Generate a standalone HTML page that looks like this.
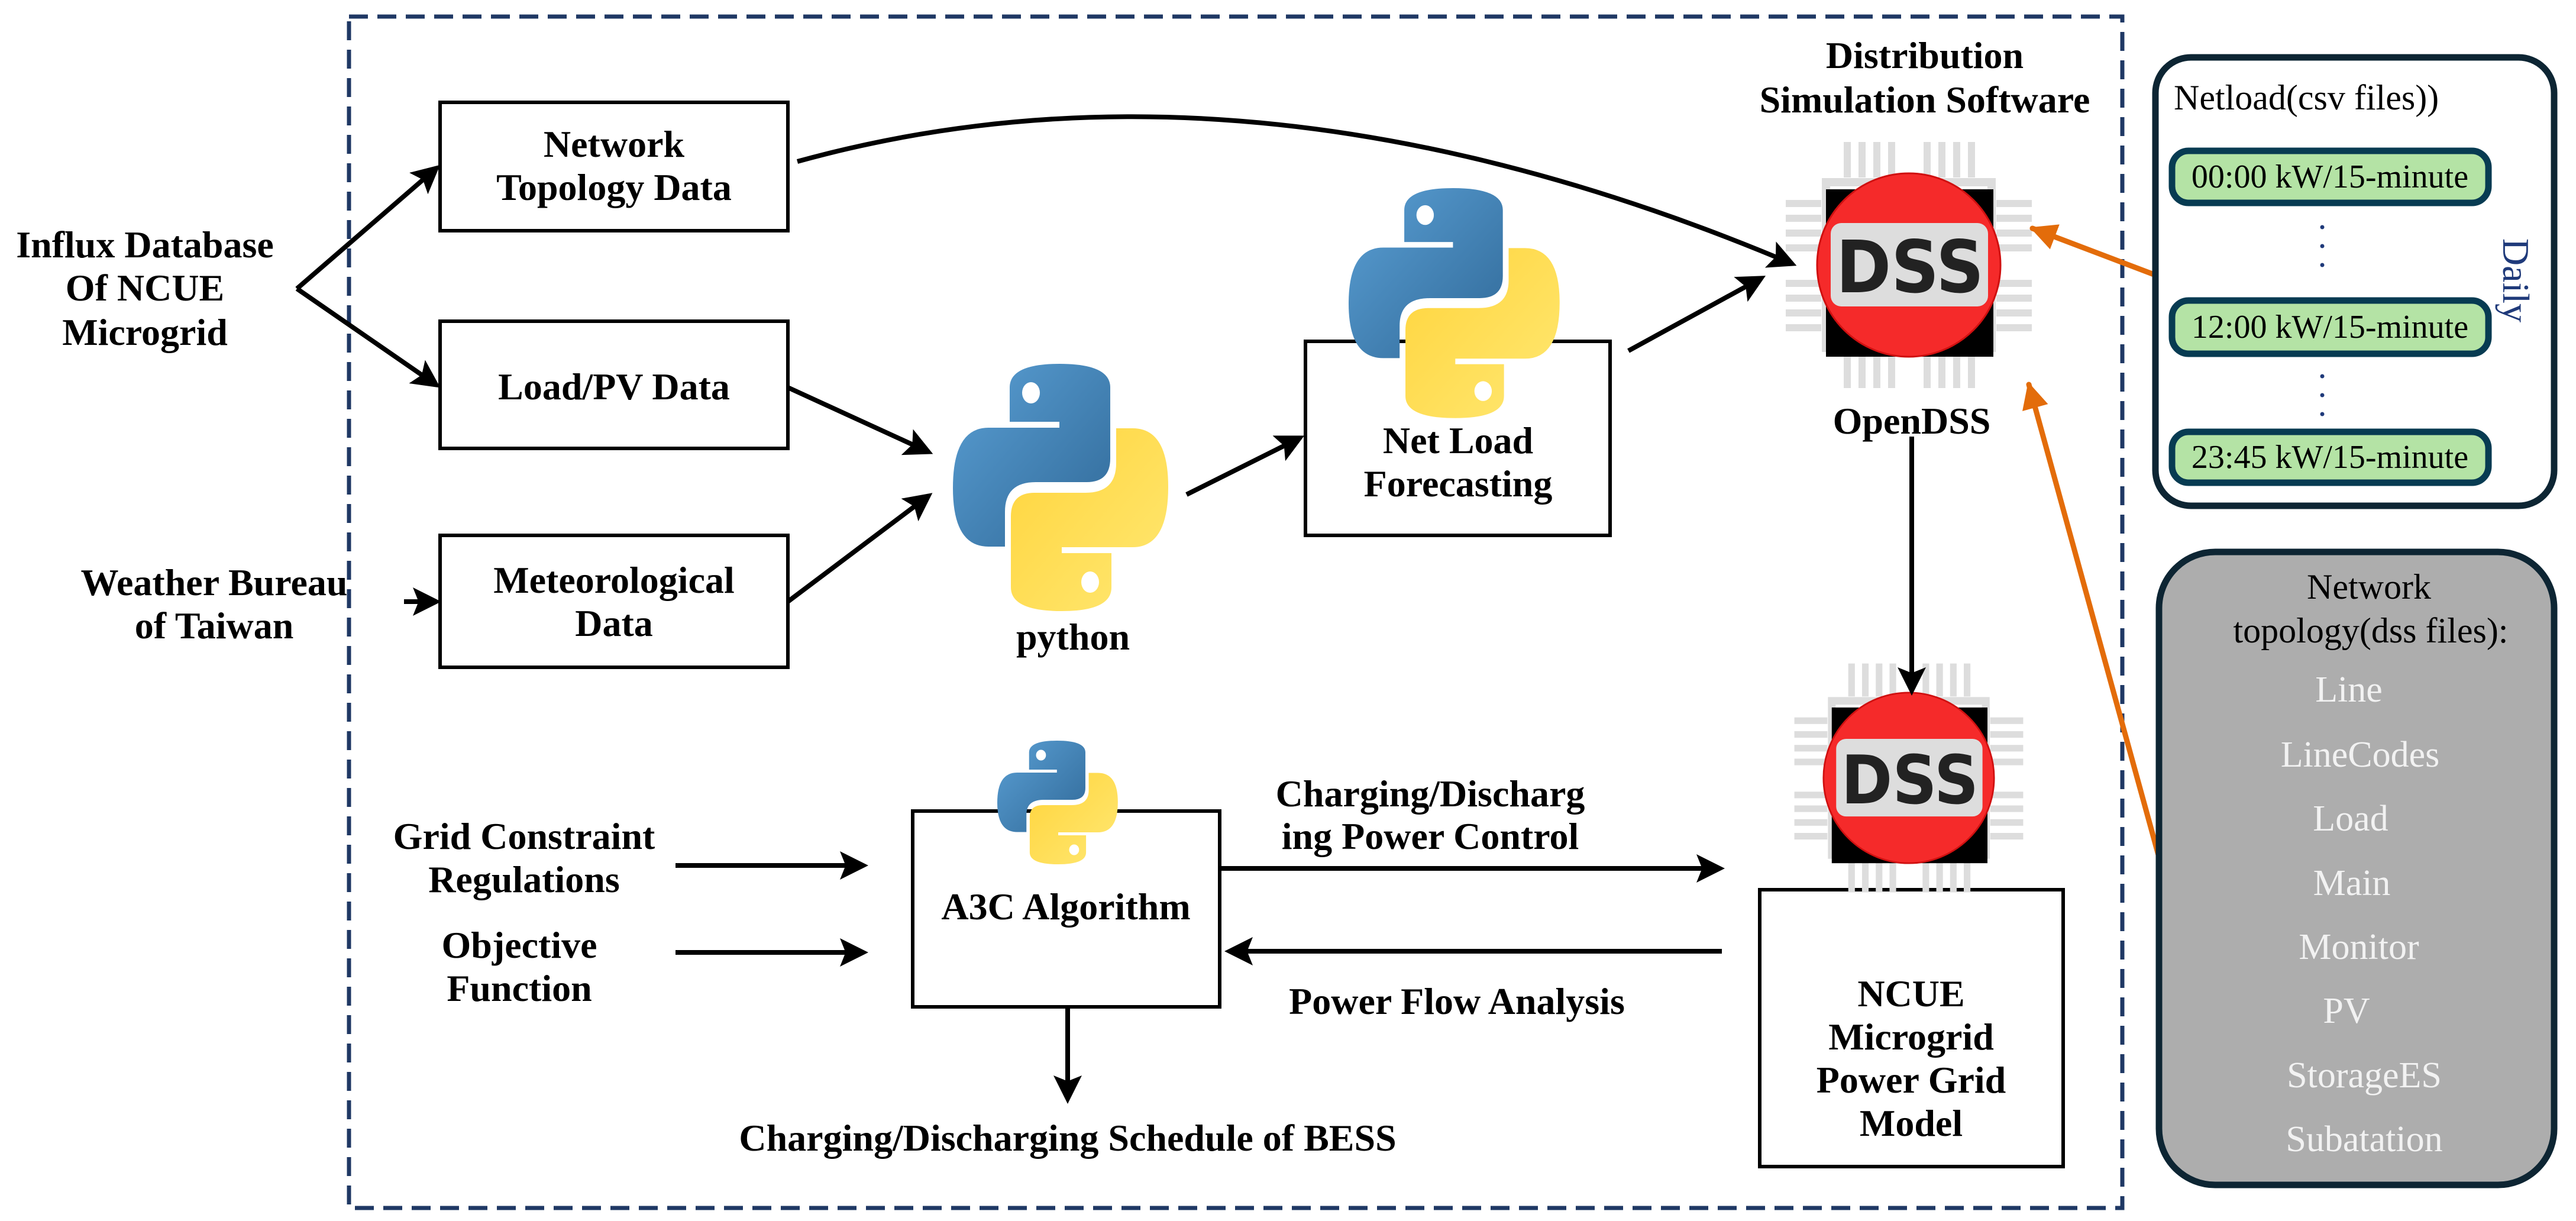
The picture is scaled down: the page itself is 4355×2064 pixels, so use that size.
<!DOCTYPE html>
<html><head><meta charset="utf-8"><style>
html,body{margin:0;padding:0;background:#fff}
svg{display:block}
.b{font-family:"Liberation Serif",serif;font-weight:bold;font-size:64px;fill:#000}
.r{font-family:"Liberation Serif",serif;font-size:60px;fill:#000}
</style></head><body>
<svg width="4355" height="2064" viewBox="0 0 4355 2064" xmlns="http://www.w3.org/2000/svg">
<defs>
<marker id="ah" markerWidth="6" markerHeight="6" refX="5" refY="3" orient="auto" markerUnits="strokeWidth"><path d="M0,0 L6,3 L0,6 L1.2,3 Z" fill="#000"/></marker>
<marker id="ao" markerWidth="5" markerHeight="5" refX="4.5" refY="2.5" orient="auto" markerUnits="strokeWidth"><path d="M0,0 L5,2.5 L0,5 Z" fill="#e36c0a"/></marker>
<linearGradient id="gb" x1="0" y1="0" x2="1" y2="1"><stop offset="0" stop-color="#5a9fd4"/><stop offset="1" stop-color="#306998"/></linearGradient>
<linearGradient id="gy" x1="0" y1="0" x2="1" y2="1"><stop offset="0" stop-color="#ffe873"/><stop offset="1" stop-color="#ffd43b"/></linearGradient>
<g id="py">
<path d="M96,40 Q96,0 180,0 Q266,0 266,40 L266,160 Q266,200 226,200 L140,200 Q88,200 88,250 L88,309 L60,309 Q0,309 0,210 Q0,108 60,108 L180,108 L180,98 L96,98 Z" fill="url(#gb)"/>
<ellipse cx="132" cy="49" rx="15" ry="18" fill="#fff"/>
<g transform="rotate(180 182 209)">
<path d="M96,40 Q96,0 180,0 Q266,0 266,40 L266,160 Q266,200 226,200 L140,200 Q88,200 88,250 L88,309 L60,309 Q0,309 0,210 Q0,108 60,108 L180,108 L180,98 L96,98 Z" fill="url(#gy)"/>
<ellipse cx="132" cy="49" rx="15" ry="18" fill="#fff"/>
</g>
</g>
<g id="dss">
<g fill="#ddd">
<rect x="-140" y="-140" width="280" height="280" fill="none" stroke="#ddd" stroke-width="14"/>
<rect x="-110" y="-208" width="12" height="60"/><rect x="-85" y="-208" width="12" height="60"/><rect x="-60" y="-208" width="12" height="60"/><rect x="-35" y="-208" width="12" height="60"/>
<rect x="100" y="-208" width="12" height="60"/><rect x="75" y="-208" width="12" height="60"/><rect x="50" y="-208" width="12" height="60"/><rect x="25" y="-208" width="12" height="60"/>
<rect x="-110" y="148" width="12" height="60"/><rect x="-85" y="148" width="12" height="60"/><rect x="-60" y="148" width="12" height="60"/><rect x="-35" y="148" width="12" height="60"/>
<rect x="100" y="148" width="12" height="60"/><rect x="75" y="148" width="12" height="60"/><rect x="50" y="148" width="12" height="60"/><rect x="25" y="148" width="12" height="60"/>
<rect y="-110" x="-208" height="12" width="60"/><rect y="-85" x="-208" height="12" width="60"/><rect y="-60" x="-208" height="12" width="60"/><rect y="-35" x="-208" height="12" width="60"/>
<rect y="100" x="-208" height="12" width="60"/><rect y="75" x="-208" height="12" width="60"/><rect y="50" x="-208" height="12" width="60"/><rect y="25" x="-208" height="12" width="60"/>
<rect y="-110" x="148" height="12" width="60"/><rect y="-85" x="148" height="12" width="60"/><rect y="-60" x="148" height="12" width="60"/><rect y="-35" x="148" height="12" width="60"/>
<rect y="100" x="148" height="12" width="60"/><rect y="75" x="148" height="12" width="60"/><rect y="50" x="148" height="12" width="60"/><rect y="25" x="148" height="12" width="60"/>
</g>
<rect x="-140" y="-128" width="283" height="283" fill="#000"/>
<circle cx="0" cy="0" r="155" fill="#f52a2a" stroke="#d01010" stroke-width="3"/>
<rect x="-132" y="-71" width="266" height="141" rx="18" fill="#ddd"/>
<text x="2" y="46" text-anchor="middle" font-family="DejaVu Sans,Liberation Sans,sans-serif" font-weight="bold" font-size="122" textLength="250" lengthAdjust="spacingAndGlyphs" fill="#222">DSS</text>
</g>
</defs>

<rect x="590" y="28" width="2998" height="2014" fill="none" stroke="#1f3864" stroke-width="7" stroke-dasharray="32 16"/>

<g fill="#fff" stroke="#000" stroke-width="6">
<rect x="744" y="173" width="588" height="217"/>
<rect x="744" y="543" width="588" height="215"/>
<rect x="744" y="905" width="588" height="223"/>
<rect x="2207" y="577" width="515" height="328"/>
<rect x="1543" y="1371" width="519" height="331"/>
<rect x="2975" y="1504" width="513" height="468"/>
</g>

<use href="#py" transform="translate(1611,615)"/>
<use href="#py" transform="translate(2280,318) scale(0.98,0.93)"/>
<use href="#py" transform="translate(1686,1252) scale(0.56,0.5)"/>
<use href="#dss" transform="translate(3227,448)"/>
<use href="#dss" transform="translate(3227,1315) scale(0.93)"/>

<g stroke="#000" stroke-width="8" fill="none" marker-end="url(#ah)">
<line x1="502" y1="488" x2="738" y2="284"/>
<line x1="502" y1="488" x2="738" y2="651"/>
<line x1="683" y1="1017" x2="738" y2="1017"/>
<line x1="1332" y1="655" x2="1570" y2="764"/>
<line x1="1332" y1="1017" x2="1570" y2="838"/>
<line x1="2006" y1="836" x2="2198" y2="740"/>
<line x1="2753" y1="593" x2="2978" y2="470"/>
<path d="M1348,273 Q2117,60 3030,446"/>
<line x1="3232" y1="738" x2="3232" y2="1168"/>
<line x1="1142" y1="1463" x2="1460" y2="1463"/>
<line x1="1142" y1="1610" x2="1460" y2="1610"/>
<line x1="2062" y1="1468" x2="2908" y2="1468"/>
<line x1="2911" y1="1608" x2="2078" y2="1608"/>
<line x1="1805" y1="1702" x2="1805" y2="1858"/>
</g>
<g stroke="#e36c0a" stroke-width="9" fill="none" marker-end="url(#ao)" stroke-linecap="round">
<line x1="3644" y1="465" x2="3436" y2="386"/>
<line x1="3650" y1="1449" x2="3430" y2="650"/>
</g>

<g class="b" text-anchor="middle">
<text x="1038" y="265">Network</text><text x="1038" y="338">Topology Data</text>
<text x="1038" y="675">Load/PV Data</text>
<text x="1038" y="1002">Meteorological</text><text x="1038" y="1075">Data</text>
<text x="2465" y="766">Net Load</text><text x="2465" y="839">Forecasting</text>
<text x="1802" y="1554">A3C Algorithm</text>
<text x="3231" y="1701">NCUE</text><text x="3231" y="1774">Microgrid</text><text x="3231" y="1847">Power Grid</text><text x="3231" y="1920">Model</text>
<text x="245" y="435">Influx Database</text><text x="245" y="508">Of NCUE</text><text x="245" y="583">Microgrid</text>
<text x="362" y="1006">Weather Bureau</text><text x="362" y="1079">of Taiwan</text>
<text x="3254" y="115">Distribution</text><text x="3254" y="190">Simulation Software</text>
<text x="3232" y="733">OpenDSS</text>
<text x="1814" y="1098">python</text>
<text x="886" y="1435">Grid Constraint</text><text x="886" y="1508">Regulations</text>
<text x="878" y="1619">Objective</text><text x="878" y="1692">Function</text>
<text x="2418" y="1363">Charging/Discharg</text><text x="2418" y="1435">ing Power Control</text>
<text x="2463" y="1714">Power Flow Analysis</text>
<text x="1805" y="1945">Charging/Discharging Schedule of BESS</text>
</g>

<rect x="3644" y="97" width="674" height="758" rx="60" fill="#fff" stroke="#0d2533" stroke-width="11"/>
<text class="r" x="3675" y="185" font-size="66">Netload(csv files))</text>
<g fill="#b4e3a5" stroke="#073b52" stroke-width="11">
<rect x="3672" y="255" width="535" height="88" rx="28"/>
<rect x="3672" y="508" width="535" height="90" rx="28"/>
<rect x="3672" y="730" width="535" height="86" rx="28"/>
</g>
<g class="r" text-anchor="middle">
<text x="3939" y="317" font-size="56">00:00 kW/15-minute</text>
<text x="3939" y="571" font-size="56">12:00 kW/15-minute</text>
<text x="3939" y="791" font-size="56">23:45 kW/15-minute</text>
</g>
<g fill="#1f3a7a"><circle cx="3926" cy="384" r="3.5"/><circle cx="3926" cy="416" r="3.5"/><circle cx="3926" cy="448" r="3.5"/><circle cx="3926" cy="636" r="3.5"/><circle cx="3926" cy="668" r="3.5"/><circle cx="3926" cy="700" r="3.5"/></g>
<text x="4252" y="474" font-family="Liberation Serif,serif" font-size="64" fill="#1f3a7a" text-anchor="middle" transform="rotate(90 4252 474)" dy="20">Daily</text>

<rect x="3650" y="933" width="668" height="1070" rx="95" fill="#adadad" stroke="#0d2533" stroke-width="11"/>
<g class="r" text-anchor="middle">
<text x="4005" y="1012">Network</text>
<text x="4008" y="1086">topology(dss files):</text>
</g>
<g font-family="Liberation Serif,serif" font-size="62" fill="#f2f2f2" text-anchor="middle">
<text x="3971" y="1186">Line</text>
<text x="3990" y="1296">LineCodes</text>
<text x="3974" y="1404">Load</text>
<text x="3976" y="1513">Main</text>
<text x="3988" y="1621">Monitor</text>
<text x="3967" y="1729">PV</text>
<text x="3997" y="1838">StorageES</text>
<text x="3997" y="1946">Subatation</text>
</g>
</svg>
</body></html>
